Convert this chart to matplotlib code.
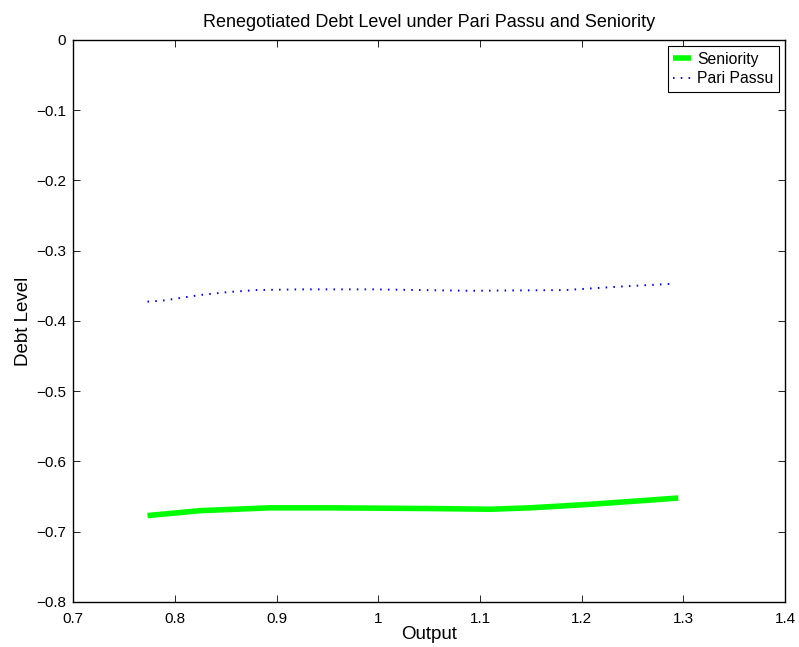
import numpy as np
import matplotlib
matplotlib.use('Agg')
import matplotlib.pyplot as plt

plt.rcParams['font.family'] = ['Liberation Sans', 'DejaVu Sans']

# values
sen_x = [0.773, 0.825, 0.893, 0.952, 1.051, 1.110, 1.149, 1.208, 1.257, 1.295]
sen_y = [-0.677, -0.670, -0.666, -0.666, -0.667, -0.668, -0.666, -0.661, -0.656, -0.652]

pp_x = [0.773, 0.788, 0.825, 0.851, 0.880, 0.923, 0.994, 1.090, 1.184, 1.238, 1.291]
pp_y = [-0.3725, -0.371, -0.363, -0.359, -0.356, -0.355, -0.355, -0.357, -0.356, -0.351, -0.347]

xticks = [0.7, 0.8, 0.9, 1.0, 1.1, 1.2, 1.3, 1.4]
xticklabels = ['0.7', '0.8', '0.9', '1', '1.1', '1.2', '1.3', '1.4']
yticks = [0, -0.1, -0.2, -0.3, -0.4, -0.5, -0.6, -0.7, -0.8]
yticklabels = ['0', '\u22120.1', '\u22120.2', '\u22120.3', '\u22120.4',
               '\u22120.5', '\u22120.6', '\u22120.7', '\u22120.8']

fig = plt.figure(figsize=(7.99, 6.47), dpi=100)
ax = fig.add_axes([0.0917, 0.0696, 0.8908, 0.8686])

ax.plot(sen_x, sen_y, color='#00ff00', lw=4, label='Seniority', solid_capstyle='butt')
ax.plot(pp_x, pp_y, color='blue', lw=1.4, linestyle=(0, (0.8, 3.2)), label='Pari Passu')

ax.set_xlim(0.7, 1.4)
ax.set_ylim(-0.8, 0)
ax.set_xticks(xticks)
ax.set_xticklabels(xticklabels)
ax.set_yticks(yticks)
ax.set_yticklabels(yticklabels)
ax.tick_params(direction='in', length=5, width=0.6, top=True, right=True,
               labelsize=11)
ax.tick_params(axis='x', pad=7)
ax.tick_params(axis='y', pad=5)
for s in ax.spines.values():
    s.set_linewidth(1.0)

ax.set_xlabel('Output', fontsize=13.5, labelpad=0)
ax.set_ylabel('Debt Level', fontsize=13.5, labelpad=3)
ax.set_title('Renegotiated Debt Level under Pari Passu and Seniority', fontsize=13, pad=9)

leg = ax.legend(loc='upper right', fontsize=11.3, fancybox=False, framealpha=1,
                edgecolor='black', handlelength=1.1, borderaxespad=0.4,
                borderpad=0.35, labelspacing=0.3, handletextpad=0.4)
leg.get_frame().set_linewidth(0.8)

fig.savefig('out.png', dpi=100)
